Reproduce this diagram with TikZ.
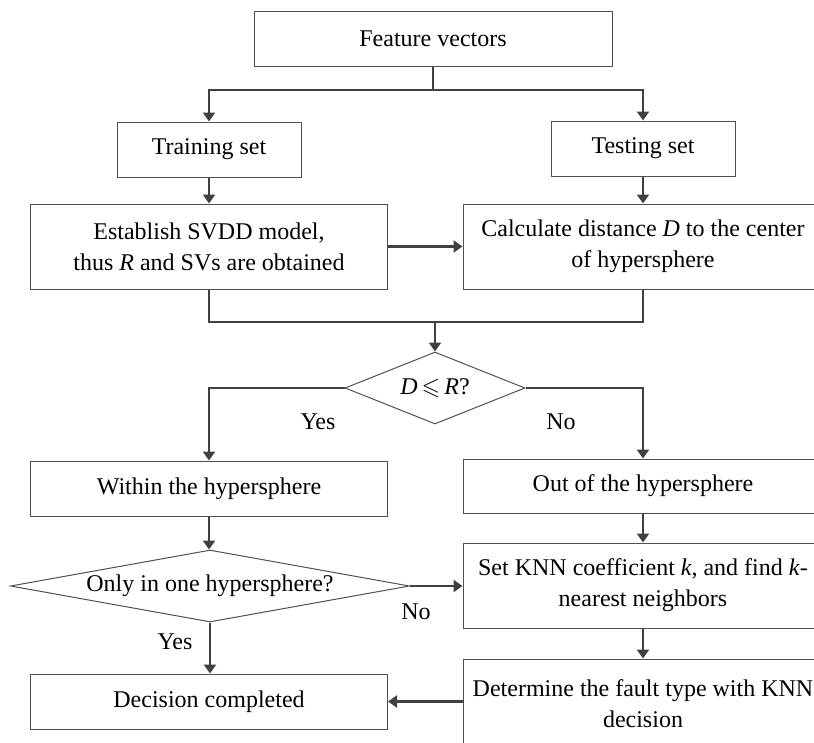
\documentclass[tikz,border=0pt]{standalone}
\usepackage{fontspec}
\setmainfont{Liberation Serif}
\usepackage{amssymb}
\usetikzlibrary{shapes.geometric,arrows.meta}
\definecolor{boxc}{HTML}{505050}
\definecolor{linec}{HTML}{404040}
\begin{document}
\begin{tikzpicture}[x=1pt,y=-1pt,
  font=\fontsize{24}{31}\selectfont,
  box/.style={draw=boxc, line width=1pt, rectangle, align=center, inner sep=2pt},
  dia/.style={draw=boxc, line width=1pt, diamond, inner sep=0pt, align=center},
  conn/.style={draw=linec, line width=2.8pt},
  arr/.style={conn, -{Triangle[length=9pt,width=12pt]}},
  lbl/.style={inner sep=0pt}]
\useasboundingbox (0,0) rectangle (814,742);
\clip (0,0) rectangle (814,742);
% nodes
\node[box, minimum width=358pt, minimum height=55pt] (fv) at (433,38.5) {Feature vectors};
\node[box, minimum width=184pt, minimum height=55pt] (train) at (209,149.5) {Training set};
\node[box, minimum width=184pt, minimum height=55pt] (test) at (643,148.5) {Testing set};
\node[box, minimum width=357pt, minimum height=85pt] (est) at (209,246.5) {Establish SVDD model,\\thus \textit{R} and SVs are obtained};
\node[box, minimum width=360pt, minimum height=85pt] (calc) at (643,246.5) {Calculate distance \textit{D} to the center\\of hypersphere};
\node[dia, aspect=2.5, minimum width=180pt, minimum height=72pt] (dec1) at (435,388) {\textit{D}\,$\leqslant$\,\textit{R}?};
\node[box, minimum width=357pt, minimum height=55pt] (within) at (209,488.5) {Within the hypersphere};
\node[box, minimum width=360pt, minimum height=54pt] (out) at (643,486) {Out of the hypersphere};
\node[dia, aspect=5.5, minimum width=399pt, minimum height=72pt] (dec2) at (210,586) {Only in one hypersphere?};
\node[box, minimum width=360pt, minimum height=85pt] (setk) at (643,585.5) {Set KNN coefficient \textit{k}, and find \textit{k}-\\nearest neighbors};
\node[box, minimum width=357pt, minimum height=55pt] (done) at (209,701.5) {Decision completed};
\node[box, minimum width=360pt, minimum height=90pt] (det) at (643,704) {Determine the fault type with KNN\\decision};
% labels
\node[lbl] (yes1) at (318,422) {Yes};
\node[lbl] (no1) at (561,422) {No};
\node[lbl] (no2) at (416,612) {No};
\node[lbl] (yes2) at (175,642) {Yes};
% connectors
\coordinate (split) at (433,90);
\draw[conn] (fv.south) -- (split);
\draw[arr] (split) -| (train.north);
\draw[arr] (split) -| (test.north);
\draw[arr] (train.south) -- (est.north);
\draw[arr] (test.south) -- (calc.north);
\draw[arr] (est.east) -- (calc.west);
\coordinate (merge) at (435,322);
\draw[conn] (est.south) |- (merge);
\draw[conn] (calc.south) |- (merge);
\draw[arr] (merge) -- (dec1.north);
\draw[arr] (dec1.west) -| (within.north);
\draw[arr] (dec1.east) -| (out.north);
\draw[arr] (within.south) -- (within.south |- dec2.north);
\draw[arr] (dec2.east) -- (setk.west |- dec2.east);
\draw[arr] (dec2.south) -- (dec2.south |- done.north);
\draw[arr] (out.south) -- (setk.north);
\draw[arr] (setk.south) -- (det.north);
\draw[arr] (det.west |- done.east) -- (done.east);
\end{tikzpicture}
\end{document}
